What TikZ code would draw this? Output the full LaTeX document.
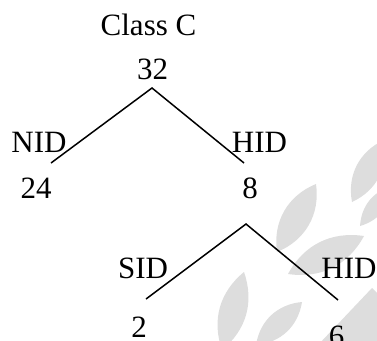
\documentclass[tikz,border=0pt]{standalone}
\usepackage{fontspec}
\setmainfont{Liberation Serif}
\definecolor{leafgray}{RGB}{221,221,221}
\begin{document}
\begin{tikzpicture}[x=1pt,y=-1pt,
  lbl/.style={anchor=base,inner sep=0pt,font=\fontsize{31}{36}\selectfont},
  edge/.style={line width=1.5pt},
  leaf/.style={fill=leafgray,draw=none}]
\useasboundingbox (0,0) rectangle (377,340);
% faint leaf pattern in the background
\begin{scope}
\clip (0,0) rectangle (377,340);
\fill[leaf] (277,252) to[bend left=38] (316,184) to[bend left=38] (277,252);
\fill[leaf] (288,274) to[bend left=35] (364,236) to[bend left=35] (288,274);
\fill[leaf] (352,202) to[bend left=38] (384,140) to[bend left=38] (352,202);
\fill[leaf] (360,226) to[bend left=35] (392,186) to[bend left=35] (360,226);
\fill[leaf] (244,272) to[bend left=35] (222,350) to[bend left=35] (244,272);
\fill[leaf] (256,345) to[bend left=38] (302,302) to[bend left=38] (256,345);
\fill[leaf] (318,345) -- (372,288) -- (384,300) -- (384,345) -- cycle;
\end{scope}
% labels
\node[lbl] (cls) at (148.5,35) {Class C};
\node[lbl] (n32) at (152.5,79) {32};
\node[lbl] (nid) at (39,152) {NID};
\node[lbl] (hidA) at (259.5,152) {HID};
\node[lbl] (n24) at (36,198) {24};
\node[lbl] (n8) at (250,198) {8};
\node[lbl] (sid) at (143,278) {SID};
\node[lbl] (hidB) at (349,278) {HID};
\node[lbl] (n2) at (139,337) {2};
\node[lbl] (n6) at (336.5,346) {6};
% branch points
\coordinate (topA) at (152,88);
\coordinate (leftA) at (51,163);
\coordinate (rightA) at (244,163);
\coordinate (topB) at (246,224);
\coordinate (leftB) at (146,299);
\coordinate (rightB) at (338,300);
\draw[edge] (leftA) -- (topA) -- (rightA);
\draw[edge] (leftB) -- (topB) -- (rightB);
\end{tikzpicture}
\end{document}
